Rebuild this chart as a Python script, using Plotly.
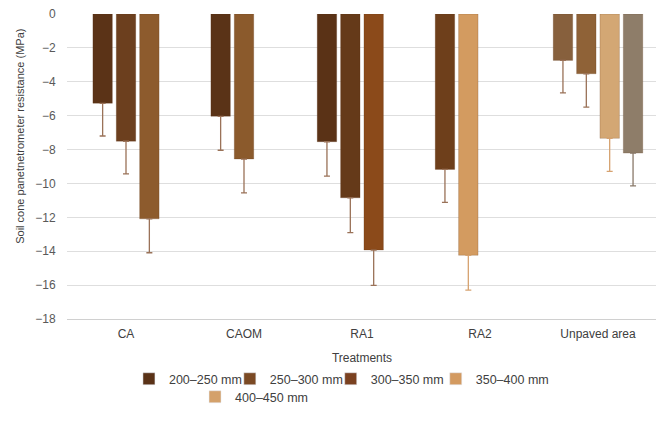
import plotly.graph_objects as go

# ---------------- data ----------------
categories = ["CA", "CAOM", "RA1", "RA2", "Unpaved area"]
series_names = ["200–250 mm", "250–300 mm", "300–350 mm", "350–400 mm", "400–450 mm"]

s200 = [-5.27, -6.04, -7.54, None, None]
s250 = [-7.51, -8.56, -10.85, -9.17, -2.74]
s300 = [-12.09, None, -13.93, None, -3.53]
s350 = [None, None, None, -14.24, -7.34]
s400 = [None, None, None, None, -8.21]

e200 = [1.93, 2.0, 2.03, None, None]
e250 = [1.92, 2.0, 2.05, 1.95, 1.92]
e300 = [2.0, None, 2.09, None, 1.97]
e350 = [None, None, None, 2.06, 1.95]
e400 = [None, None, None, None, 1.93]

values = [s200, s250, s300, s350, s400]
errors = [e200, e250, e300, e350, e400]

y_ticks = [0, -2, -4, -6, -8, -10, -12, -14, -16, -18]

# ---------------- styles ----------------
legend_colors = ["#5a3217", "#7b4a24", "#7a4120", "#d39a60", "#d4a16b"]
bar_colors = [
    ["#5b3317", "#5a3317", "#5a3216", None, None],
    ["#6c3f1e", "#8b5a2c", "#653a19", "#6e3f1b", "#87603d"],
    ["#8d5b2d", None, "#8b4a1a", None, "#8f6237"],
    [None, None, None, "#d39b60", "#d3a774"],
    [None, None, None, None, "#8e7d69"],
]
err_colors = ["#9a7258", "#9a7258", "#9a7258", "#d6a270", "#8a7a6a"]
slots_per_cat = [3, 3, 4, 4, 4]
pitch = 0.198
bar_w = 0.165

# legend placement (paper coords): one small legend per entry
legend_x = [0.105, 0.276, 0.447, 0.625, 0.217]
legend_y = [-0.148, -0.148, -0.148, -0.148, -0.207]

FONT = "Liberation Sans, Arial, sans-serif"

fig = go.Figure()

# slot index of each bar within its category (bars filled left to right)
used = [0] * len(categories)
for si, (vals, errs) in enumerate(zip(values, errors)):
    offs, widths = [], []
    for ci, v in enumerate(vals):
        if v is None:
            offs.append(0)
            widths.append(bar_w)
            continue
        slot = used[ci]
        used[ci] += 1
        offs.append((slot - slots_per_cat[ci] / 2) * pitch + (pitch - bar_w) / 2)
        widths.append(bar_w)
    fig.add_trace(go.Bar(
        x=categories, y=vals,
        offset=offs, width=widths,
        marker=dict(color=[c if c else "#000" for c in bar_colors[si]],
                    line=dict(width=0.6, color="rgba(90,50,20,0.35)")),
        error_y=dict(type="data", symmetric=False,
                     array=[0 if e is not None else None for e in errs],
                     arrayminus=errs, color=err_colors[si],
                     thickness=1.3, width=3),
        showlegend=False, name=series_names[si],
    ))

# legend entries
legend_layouts = {}
for si, name in enumerate(series_names):
    key = "legend" if si == 0 else f"legend{si + 1}"
    fig.add_trace(go.Bar(
        x=[None], y=[None], name=name,
        marker=dict(color=legend_colors[si]),
        legend=key,
    ))
    legend_layouts[key] = dict(
        orientation="h", xanchor="left", yanchor="top",
        x=legend_x[si], y=legend_y[si],
        font=dict(size=12.5, color="#404040"), itemwidth=30,
        bgcolor="rgba(0,0,0,0)",
    )

fig.update_layout(
    width=656, height=413,
    margin=dict(l=59, r=7, t=6, b=102, autoexpand=False),
    paper_bgcolor="white", plot_bgcolor="white",
    barmode="overlay",
    font=dict(family=FONT, size=12, color="#595959"),
    xaxis=dict(
        type="category", range=[-0.5, 4.5], automargin=False,
        showgrid=False, showline=True, linecolor="#d0d0d0", linewidth=1,
        ticks="outside", ticklen=4, tickcolor="rgba(0,0,0,0)",
        tickfont=dict(size=12, color="#404040"),
        title=dict(text="Treatments", font=dict(size=12, color="#404040"), standoff=13),
    ),
    yaxis=dict(
        range=[-18, 0], tickvals=y_ticks, automargin=False,
        ticklabeloverflow="allow",
        showgrid=True, gridcolor="#dedede", gridwidth=1,
        zeroline=False, showline=False,
        ticks="outside", ticklen=8, tickcolor="rgba(0,0,0,0)",
        tickfont=dict(size=12, color="#595959"),
    ),
    annotations=[dict(
        text="Soil cone panetnetrometer resistance (MPa)",
        textangle=-90, xref="paper", yref="paper",
        x=-0.08, y=0.6, xanchor="center", yanchor="middle",
        showarrow=False, font=dict(size=11, color="#404040"),
    )],
    **legend_layouts,
)

fig.write_html("out.html")
